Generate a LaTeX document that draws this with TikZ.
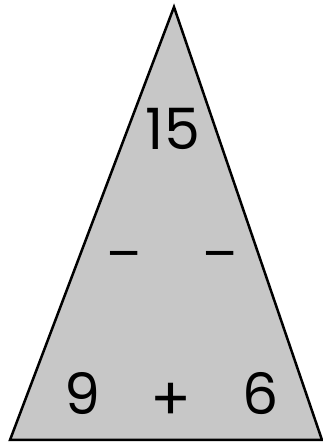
\documentclass[tikz,border=0pt]{standalone}
\usepackage{fontspec}
\setmainfont{Poppins}
\begin{document}
\begin{tikzpicture}[x=1pt,y=1pt,
  digit/.style={inner sep=0pt,font=\fontsize{57}{57}\selectfont},
  sign/.style={inner sep=0pt,font=\fontsize{#1}{#1}\selectfont}]
\useasboundingbox (0,0) rectangle (323,446);
\coordinate (apex) at (174,439);
\coordinate (bl) at (10,6);
\coordinate (br) at (322,6);
\filldraw[fill=black!22,draw=black,line width=2.5pt,line join=miter] (apex) -- (br) -- (bl) -- cycle;
\node[digit,anchor=base] (top) at (173,296) {15};
\node[digit,anchor=base] (left) at (82,31) {9};
\node[digit,anchor=base] (right) at (261,31) {6};
\node[sign=60] (plus) at (171,44) {+};
\node[sign=52] (m1) at (124,184) {–};
\node[sign=52] (m2) at (220,184) {–};
\end{tikzpicture}
\end{document}
